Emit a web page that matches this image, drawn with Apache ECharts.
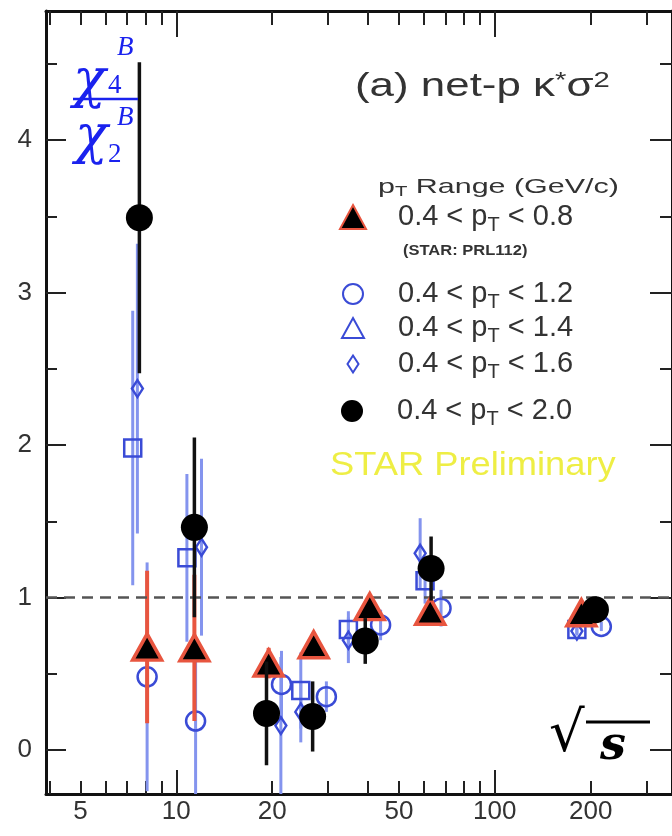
<!DOCTYPE html>
<html><head><meta charset="utf-8">
<script src="https://cdn.jsdelivr.net/npm/echarts@6/dist/echarts.min.js"></script>
<style>html,body{margin:0;padding:0;background:#fff}#c{width:672px;height:836px}</style>
</head><body><div id="c"></div>
<script>
// ---- tick labels ----
const xTickLabels = [5, 10, 20, 50, 100, 200];
const xMajorTicks = [10, 100];
const xMinorTicks = [4, 5, 6, 7, 8, 9, 20, 30, 40, 50, 60, 70, 80, 90, 200, 300];
const yTickLabels = [0, 1, 2, 3, 4];
const yMinorTicks = [0.5, 1.5, 2.5, 3.5, 4.5];

// ---- 0.4 < pT < 0.8 (STAR: PRL112) ----
const pt08_x = [8.1, 11.4, 19.5, 27.0, 40.5, 62.7, 187];
const pt08_y = [0.675, 0.67, 0.57, 0.69, 0.94, 0.91, 0.90];
const pt08_err = [0.50, 0.48, 0.10, 0.05, 0.07, 0.07, 0.06];

// ---- 0.4 < pT < 1.2 ----
const pt12_x = [8.1, 11.5, 21.4, 29.6, 43.8, 67.8, 216];
const pt12_y = [0.48, 0.19, 0.43, 0.35, 0.82, 0.93, 0.81];
const pt12_err = [0.75, 0.50, 0.22, 0.10, 0.10, 0.12, 0.03];

// ---- 0.4 < pT < 1.4 ----
const pt14_x = [7.3, 10.8, 24.6, 34.7, 60.4, 181];
const pt14_y = [1.98, 1.26, 0.39, 0.79, 1.11, 0.79];
const pt14_err = [0.90, 0.55, 0.25, 0.12, 0.15, 0.03];

// ---- 0.4 < pT < 1.6 ----
const pt16_x = [7.55, 12.0, 21.3, 24.6, 34.7, 58.3, 181];
const pt16_y = [2.37, 1.33, 0.16, 0.25, 0.72, 1.29, 0.78];
const pt16_err = [0.95, 0.58, 0.45, 0.20, 0.15, 0.23, 0.03];

// ---- 0.4 < pT < 2.0 ----
const pt20_x = [7.66, 11.4, 19.2, 26.8, 39.2, 63.1, 207];
const pt20_y = [3.49, 1.46, 0.24, 0.22, 0.715, 1.19, 0.92];
const pt20_err = [1.02, 0.59, 0.34, 0.23, 0.15, 0.21, 0.05];

const names = ['0.4<pT<0.8', '0.4<pT<1.2', '0.4<pT<1.4', '0.4<pT<1.6', '0.4<pT<2.0'];

const X_MIN = 3.9, X_MAX = 360, Y_MIN = -0.2885, Y_MAX = 4.846;
const SANS = 'Liberation Sans, Arial, sans-serif';
const SERIF = 'DejaVu Serif, Liberation Serif, serif';
const TIMES = 'Liberation Serif, serif';
const BLUE = '#3a4bd6', BLUE_BAR = '#8494ee', RED = '#e8553f', CHI = '#1a22ee';

function errSeries(xs, ys, errs, color, width, z) {
  return {
    type: 'custom', silent: true, z: z, clip: true,
    data: xs.map((x, i) => [x, ys[i] - errs[i], ys[i] + errs[i]]),
    encode: { x: 0, y: [1, 2] },
    renderItem: function (params, api) {
      const cs = params.coordSys;
      const p1 = api.coord([api.value(0), api.value(1)]);
      const p2 = api.coord([api.value(0), api.value(2)]);
      const top = cs.y, bot = cs.y + cs.height;
      const c = v => Math.min(Math.max(v, top), bot);
      return { type: 'line', shape: { x1: p1[0], y1: c(p1[1]), x2: p2[0], y2: c(p2[1]) },
               style: { stroke: color, lineWidth: width } };
    }
  };
}
function pts(xs, ys) { return xs.map((x, i) => [x, ys[i]]); }

const xBase = { type: 'log', logBase: 10, min: X_MIN, max: X_MAX, gridIndex: 0, splitLine: { show: false } };
const yBase = { type: 'value', min: Y_MIN, max: Y_MAX, gridIndex: 0, splitLine: { show: false } };
const axLine = { show: true, onZero: false, lineStyle: { color: '#111', width: 3 } };
const noLine = { show: false, onZero: false };
const tickStyle = { color: '#222', width: 2 };

const xAxis = [
  Object.assign({}, xBase, { position: 'bottom', axisLine: axLine,
    axisTick: { inside: true, length: 24, customValues: xMajorTicks, lineStyle: tickStyle },
    axisLabel: { customValues: xTickLabels, fontSize: 26, color: '#333', fontFamily: SANS, margin: 5 } }),
  Object.assign({}, xBase, { position: 'bottom', axisLine: noLine,
    axisTick: { inside: true, length: 13, customValues: xMinorTicks, lineStyle: tickStyle },
    axisLabel: { show: false } }),
  Object.assign({}, xBase, { position: 'top', axisLine: axLine,
    axisTick: { inside: true, length: 26, customValues: xMajorTicks, lineStyle: tickStyle },
    axisLabel: { show: false } }),
  Object.assign({}, xBase, { position: 'top', axisLine: noLine,
    axisTick: { inside: true, length: 14, customValues: xMinorTicks, lineStyle: tickStyle },
    axisLabel: { show: false } })
];
const yAxis = [
  Object.assign({}, yBase, { position: 'left', axisLine: axLine,
    axisTick: { inside: true, length: 20, customValues: yTickLabels, lineStyle: tickStyle },
    axisLabel: { customValues: yTickLabels, fontSize: 26, color: '#333', fontFamily: SANS, margin: 14 } }),
  Object.assign({}, yBase, { position: 'left', axisLine: noLine,
    axisTick: { inside: true, length: 11, customValues: yMinorTicks, lineStyle: tickStyle },
    axisLabel: { show: false } }),
  Object.assign({}, yBase, { position: 'right', axisLine: axLine,
    axisTick: { inside: true, length: 22, customValues: yTickLabels, lineStyle: tickStyle },
    axisLabel: { show: false } }),
  Object.assign({}, yBase, { position: 'right', axisLine: noLine,
    axisTick: { inside: true, length: 12, customValues: yMinorTicks, lineStyle: tickStyle },
    axisLabel: { show: false } })
];

const richLegend = {
  s: { fontSize: 20, color: '#333', fontFamily: SANS, padding: [16, 0, 0, 0] }
};
function legendFmt(name) {
  const m = name.match(/0\.4<pT<(.*)/);
  return '0.4 < p{s|T} < ' + m[1];
}
function mkLegend(name, icon, iw, ih, cy, extraStyle) {
  const cx = 352, tx = 397;
  const left = cx - iw / 2;
  const pad = tx - (left + iw + 5);
  const d = { name: name, icon: icon };
  if (extraStyle) d.itemStyle = extraStyle;
  return {
    data: [d], left: left, top: cy - 16, orient: 'vertical', selectedMode: false, padding: 0,
    itemWidth: iw, itemHeight: ih, formatter: legendFmt,
    textStyle: { fontSize: 29, color: '#333', fontFamily: SANS, padding: [0, 0, 0, pad], lineHeight: 34, rich: richLegend }
  };
}

const option = {
  animation: false,
  backgroundColor: '#fff',
  grid: { left: 46, top: 11, right: -3, bottom: 42, containLabel: false },
  xAxis: xAxis,
  yAxis: yAxis,
  legend: [
    mkLegend(names[0], 'triangle', 26, 24, 216),
    mkLegend(names[1], 'circle', 20, 20, 293),
    mkLegend(names[2], 'triangle', 22, 20, 327, { color: 'rgba(0,0,0,0)', borderColor: BLUE, borderWidth: 2 }),
    mkLegend(names[3], 'diamond', 11, 17, 363),
    mkLegend(names[4], 'circle', 22, 22, 410)
  ],
  series: [
    { type: 'line', data: [], silent: true, z: 1,
      markLine: { silent: true, symbol: 'none', label: { show: false },
        lineStyle: { color: '#555', type: [11, 7], width: 2.5 }, data: [{ yAxis: 1 }] } },
    errSeries(pt12_x, pt12_y, pt12_err, BLUE_BAR, 3, 2),
    errSeries(pt14_x, pt14_y, pt14_err, BLUE_BAR, 3, 2),
    errSeries(pt16_x, pt16_y, pt16_err, BLUE_BAR, 3, 2),
    { name: names[1], type: 'scatter', z: 3, data: pts(pt12_x, pt12_y), symbol: 'circle', symbolSize: 19,
      itemStyle: { color: 'rgba(255,255,255,0)', borderColor: BLUE, borderWidth: 2.5, opacity: 1 } },
    { name: names[2], type: 'scatter', z: 3, data: pts(pt14_x, pt14_y), symbol: 'rect', symbolSize: 17,
      itemStyle: { color: 'rgba(255,255,255,0)', borderColor: BLUE, borderWidth: 2.5, opacity: 1 } },
    { name: names[3], type: 'scatter', z: 3, data: pts(pt16_x, pt16_y), symbol: 'diamond', symbolSize: [11, 17],
      itemStyle: { color: 'rgba(255,255,255,0)', borderColor: BLUE, borderWidth: 2.5, opacity: 1 } },
    errSeries(pt08_x, pt08_y, pt08_err, RED, 4, 4),
    { name: names[0], type: 'scatter', z: 5, data: pts(pt08_x, pt08_y), symbol: 'triangle', symbolSize: [29, 26],
      itemStyle: { color: '#000', borderColor: RED, borderWidth: 3.5, opacity: 1 } },
    errSeries(pt20_x, pt20_y, pt20_err, '#111', 3.5, 6),
    { name: names[4], type: 'scatter', z: 7, data: pts(pt20_x, pt20_y), symbol: 'circle', symbolSize: 27,
      itemStyle: { color: '#000', opacity: 1 } }
  ],
  graphic: [
    { type: 'text', x: 355, y: 70, scaleX: 1.33, z: 10,
      style: { text: '(a) net-p κ{st|*}σ{sup|2}', fontSize: 33, fontFamily: SANS, fill: '#333',
        rich: { st: { fontSize: 22, fill: '#333', verticalAlign: 'top', fontFamily: SANS },
                sup: { fontSize: 22, fill: '#333', verticalAlign: 'top', fontFamily: SANS } } } },
    { type: 'text', x: 378, y: 175, scaleX: 1.45, z: 10,
      style: { text: 'p{s|T} Range (GeV/c)', fontSize: 21, fontFamily: SANS, fill: '#333',
        rich: { s: { fontSize: 14, fill: '#333', fontFamily: SANS, padding: [10, 0, 0, 0] } } } },
    { type: 'text', x: 403, y: 243, scaleX: 1.1, z: 10,
      style: { text: '(STAR: PRL112)', fontSize: 15, fontWeight: 'bold', fontFamily: SANS, fill: '#333' } },
    { type: 'text', x: 330, y: 449, scaleX: 1.1, z: 10,
      style: { text: 'STAR Preliminary', fontSize: 33, fontFamily: SANS, fill: '#eeee44' } },
    // y-axis quantity chi4/chi2
    { type: 'text', x: 73, y: 56, z: 10,
      style: { text: 'χ', fontSize: 54, fontStyle: 'italic', fontFamily: SERIF, fill: CHI } },
    { type: 'text', x: 117, y: 34, z: 10,
      style: { text: 'B', fontSize: 27, fontStyle: 'italic', fontFamily: TIMES, fill: CHI } },
    { type: 'text', x: 108, y: 72, z: 10,
      style: { text: '4', fontSize: 27, fontFamily: TIMES, fill: CHI } },
    { type: 'line', z: 10, shape: { x1: 73, y1: 99, x2: 138, y2: 99 }, style: { stroke: CHI, lineWidth: 2.5 } },
    { type: 'text', x: 75, y: 112, z: 10,
      style: { text: 'χ', fontSize: 54, fontStyle: 'italic', fontFamily: SERIF, fill: CHI } },
    { type: 'text', x: 117, y: 104, z: 10,
      style: { text: 'B', fontSize: 27, fontStyle: 'italic', fontFamily: TIMES, fill: CHI } },
    { type: 'text', x: 108, y: 141, z: 10,
      style: { text: '2', fontSize: 27, fontFamily: TIMES, fill: CHI } },
    // sqrt(s)
    { type: 'text', x: 549, y: 708, z: 10,
      style: { text: '√', fontSize: 56, fontFamily: 'DejaVu Serif, serif', fill: '#000' } },
    { type: 'line', z: 10, shape: { x1: 586, y1: 722, x2: 650, y2: 722 }, style: { stroke: '#000', lineWidth: 3 } },
    { type: 'text', x: 600, y: 724, z: 10,
      style: { text: 's', fontSize: 46, fontStyle: 'italic', fontWeight: 'bold', fontFamily: 'DejaVu Serif, serif', fill: '#000' } }
  ]
};
const chart = echarts.init(document.getElementById('c'), null, { renderer: 'canvas' });
chart.setOption(option);
</script></body></html>
